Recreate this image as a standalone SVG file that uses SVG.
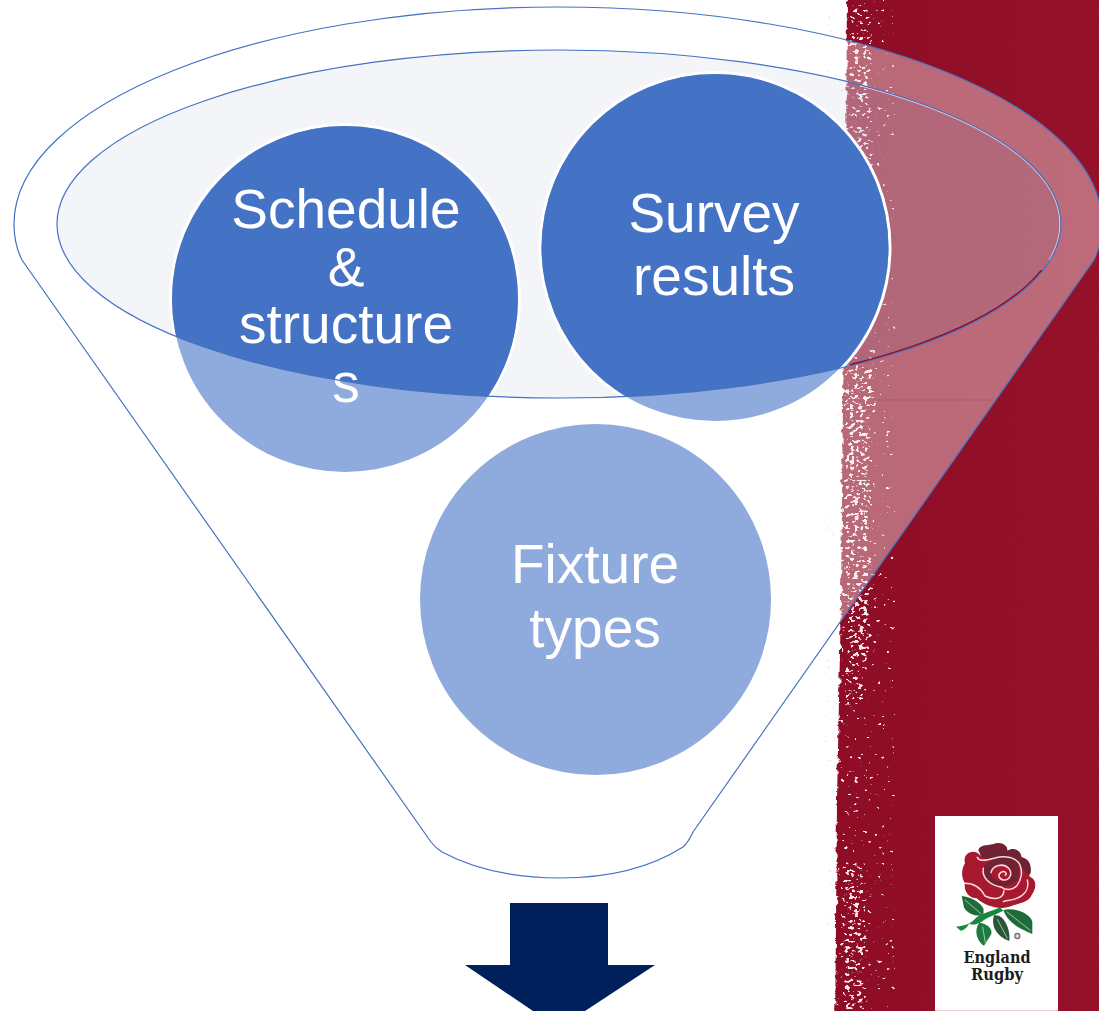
<svg xmlns="http://www.w3.org/2000/svg" width="1099" height="1011" viewBox="0 0 1099 1011">
<style>
.fn{fill:none;stroke:#4472c4;stroke-width:1.2}
.big{font-family:"Liberation Sans",Arial,sans-serif;font-size:55px;fill:#fff;text-anchor:middle}
.lt{fill:#8faadc;stroke:#fff;stroke-width:3}
.dk{fill:#4472c4}
.lg{font-family:"DejaVu Serif",serif;font-weight:700;font-size:16px;fill:#1c1c1c;text-anchor:middle}
.pet{fill:none;stroke:#f3dadd;stroke-width:4.5;stroke-linecap:round}
.vein{fill:none;stroke:#cfe3d2;stroke-width:2.2}
</style>
<defs>
<clipPath id="rightlow"><rect x="850" y="270" width="260" height="140"/></clipPath>
<clipPath id="rightup"><rect x="860" y="40" width="240" height="220"/></clipPath>
<clipPath id="inner"><ellipse cx="559" cy="224" rx="502" ry="174"/></clipPath>
<linearGradient id="red" x1="0" x2="1" y1="0" y2="0"><stop offset="0" stop-color="#8e0c25"/><stop offset="1" stop-color="#96122b"/></linearGradient>
<filter id="edge" filterUnits="userSpaceOnUse" x="800" y="-30" width="340" height="1080" color-interpolation-filters="sRGB"><feTurbulence type="fractalNoise" baseFrequency="0.1 0.14" numOctaves="3" seed="4"/><feDisplacementMap in="SourceGraphic" scale="6" xChannelSelector="R" yChannelSelector="G"/></filter>
<filter id="speck" filterUnits="userSpaceOnUse" x="825" y="0" width="70" height="1011" color-interpolation-filters="sRGB">
<feGaussianBlur in="SourceAlpha" stdDeviation="2.5" result="zone"/>
<feTurbulence type="fractalNoise" baseFrequency="0.22 0.3" numOctaves="2" seed="11"/>
<feColorMatrix values="0 0 0 0 0 0 0 0 0 0 0 0 0 0 0 1 1 0 0 -.5" result="noise"/>
<feComposite in="noise" in2="zone" operator="arithmetic" k1="0" k2="1" k3=".27" k4="0"/>
<feComponentTransfer result="hard"><feFuncA type="linear" slope="10" intercept="-8.25"/></feComponentTransfer>
<feFlood flood-color="#fbe6ea"/>
<feComposite in2="hard" operator="in"/>
</filter>
</defs>

<g id="band">
<path d="M847,-30 L1130,-30 L1130,1045 L835,1045 L837,800 L841,600 L843,400 L846,200 Z" fill="url(#red)" filter="url(#edge)"/>
<g filter="url(#speck)">
<rect x="850" y="4" width="20" height="140" opacity=".8"/>
<rect x="860" y="130" width="14" height="60" opacity=".75"/>
<rect x="868" y="190" width="6" height="220" opacity=".45"/>
<rect x="845" y="364" width="26" height="296" opacity=".95"/>
<rect x="844" y="660" width="20" height="46" opacity=".75"/>
<rect x="846" y="706" width="12" height="156" opacity=".3"/>
<rect x="843" y="864" width="22" height="148" opacity=".88"/>
</g>
</g>

<g id="funnel">
<path d="M22,260 C17,250 14,237 14,224 C14,104 258,7 558,7 C858,7 1102,104 1102,224 C1102,237 1099,250 1094,260 L693,832 C690,838 688,843 683,847 C650,868 610,878 560,878 C510,878 472,868 442,852 C437,849 434,846 431,842 Z" fill="#fff" fill-opacity=".38"/>
</g>
<g id="funnel-inner">
<ellipse cx="559" cy="224" rx="502" ry="174" fill="#2f5597" fill-opacity=".06"/>
<line x1="873" y1="400" x2="993" y2="400" stroke="#a04058" stroke-opacity=".35" stroke-width="1"/>
</g>

<g id="node-schedule">
<circle class="lt" cx="345" cy="299" r="174.5"/>
<circle class="dk" cx="345" cy="299" r="173" clip-path="url(#inner)"/>
<text class="big" x="346" y="228">Schedule</text>
<text class="big" x="346" y="286">&amp;</text>
<text class="big" x="346" y="343">structure</text>
<text class="big" x="346" y="402">s</text>
</g>
<g id="node-survey">
<circle class="lt" cx="715" cy="247.5" r="175"/>
<circle class="dk" cx="715" cy="247.5" r="173.5" clip-path="url(#inner)"/>
<text class="big" x="714" y="232">Survey</text>
<text class="big" x="714" y="295">results</text>
</g>
<g id="node-fixture">
<circle class="lt" cx="595.5" cy="599.5" r="177"/>
<text class="big" x="595" y="583">Fixture</text>
<text class="big" x="595" y="647">types</text>
</g>

<g id="connectors">
<ellipse cx="559" cy="224" rx="501" ry="173" fill="none" stroke="#e6c9d0" stroke-width="1.2" clip-path="url(#rightup)"/>
<ellipse cx="559" cy="224" rx="501" ry="173" fill="none" stroke="#8e0c25" stroke-width="2" clip-path="url(#rightlow)"/>
<path class="fn" d="M22,260 C17,250 14,237 14,224 C14,104 258,7 558,7 C858,7 1102,104 1102,224 C1102,237 1099,250 1094,260 L693,832 C690,838 688,843 683,847 C650,868 610,878 560,878 C510,878 472,868 442,852 C437,849 434,846 431,842 Z"/>
<ellipse class="fn" cx="559" cy="224" rx="502" ry="174"/>
</g>

<g id="arrow">
<path d="M510,903 H608 V965 H655 L585,1011 H533 L465,965 H510 Z" fill="#00205b"/>
</g>

<g id="logo">
<rect x="935" y="816" width="123" height="195" fill="#fff"/>
<rect x="935" y="1010" width="123" height="1" fill="#f0c8d4"/>
<g transform="translate(920,800) scale(.3333)">
<path d="M175,150 C180,132 210,138 228,130 C250,126 264,140 262,152 C280,140 302,150 305,172 C325,175 336,195 332,218 L320,240 L262,225 L190,185 Z" fill="#6f2232"/>
<path d="M332,232 C350,240 350,265 335,285 C325,310 290,310 262,322 C235,330 190,315 170,295 C145,295 130,270 135,250 C122,230 125,205 135,190 C128,165 150,148 172,158 C190,175 200,180 215,175 L300,200 Z" fill="#a8182f"/>
<path d="M190,215 C190,185 225,170 262,175 C295,180 305,215 292,240 C270,262 235,262 215,250 C200,240 192,230 190,215 Z" fill="#6f2232"/>
<path d="M213,218 C213,195 245,188 264,200 C282,212 282,238 255,243 C233,245 216,238 213,218 Z" fill="#a8182f"/>
<g class="pet">
<path d="M172,172 C178,185 195,182 225,174 C255,165 290,172 300,195 C308,215 305,240 290,258 C275,272 255,270 245,262"/>
<path d="M190,205 C185,230 205,255 245,262"/>
<path d="M135,250 C160,250 180,260 195,288 C220,300 250,300 252,272"/>
<path d="M213,218 C218,195 250,188 266,205 C280,222 268,242 250,240 C235,236 232,222 245,216 C255,212 262,220 256,226"/>
<path d="M322,240 C328,265 315,285 290,295 C270,303 255,300 250,305"/>
</g>
<path d="M125,288 C150,290 180,305 190,325 C192,335 190,342 188,347 C165,350 140,340 132,322 Z" fill="#1f6b3a"/>
<path d="M250,330 C285,322 330,340 337,365 L337,402 C305,388 265,372 250,330 Z" fill="#1f6b3a"/>
<path d="M222,346 C250,340 272,385 268,423 C240,415 210,385 222,346 Z" fill="#2b5537"/>
<path d="M178,368 C200,370 218,385 214,402 L192,437 C172,425 160,392 178,368 Z" fill="#1c7a3c"/>
<path d="M108,380 C135,378 152,372 170,352 C190,338 215,335 240,322 L250,332 C222,345 205,352 192,360 C170,378 150,375 148,370 C140,385 130,392 122,392 Z" fill="#17883f"/>
<path class="vein" d="M135,300 L185,343"/><path class="vein" d="M260,335 L332,392"/><path class="vein" d="M232,358 L262,415"/><path class="vein" d="M188,380 L196,428"/>
<circle cx="292" cy="408" r="9.5" fill="#777"/><circle cx="292" cy="408" r="5.5" fill="#ddd"/>
</g>
<text class="lg" x="997" y="963" textLength="67" lengthAdjust="spacingAndGlyphs">England</text>
<text class="lg" x="997" y="980" textLength="52" lengthAdjust="spacingAndGlyphs">Rugby</text>
</g>
</svg>
